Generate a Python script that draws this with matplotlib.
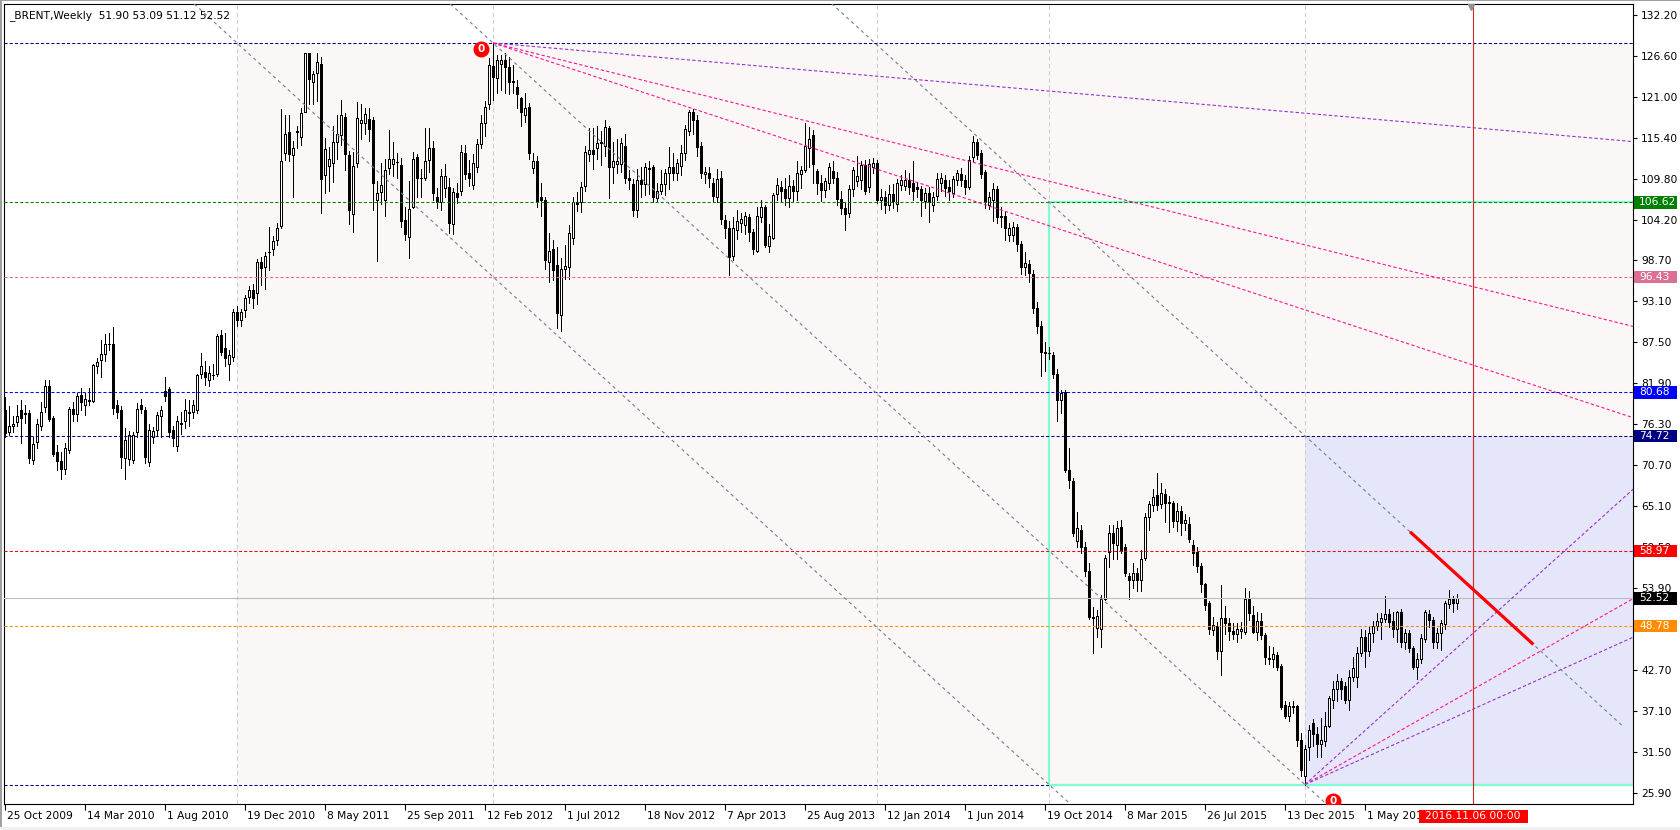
import numpy as np
import matplotlib
matplotlib.use("Agg")
import matplotlib.pyplot as plt
from matplotlib.patches import Rectangle

plt.rcParams['font.family'] = ['DejaVu Sans']

# ---------------- data (weekly candles, index 0 = week of 25 Oct 2009) ----------------
opens = [
    78.3, 75.2, 76.0, 76.6, 78.3, 77.8, 77.8, 71.4, 73.9, 76.0,
    78.6, 81.5, 77.1, 72.5, 71.3, 70.2, 72.8, 78.4, 77.7, 80.3,
    79.0, 79.5, 79.5, 84.2, 85.1, 85.9, 87.3, 87.2, 78.9, 78.3,
    71.7, 71.5, 71.4, 75.2, 79.0, 78.3, 71.2, 74.6, 75.5, 77.5,
    80.9, 81.1, 75.5, 73.3, 76.4, 76.7, 77.9, 78.0, 78.2, 83.2,
    83.4, 82.3, 83.1, 83.2, 88.5, 86.7, 84.6, 85.5, 91.7, 90.6,
    91.9, 93.7, 94.6, 94.3, 98.4, 97.8, 99.9, 100.3, 101.5, 103.4,
    113.4, 116.2, 113.1, 116.2, 115.6, 119.0, 127.0, 123.0, 124.3, 125.5,
    110.4, 111.6, 112.0, 114.9, 115.8, 118.3, 113.1, 105.0, 112.0, 117.5,
    117.5, 118.0, 117.9, 107.0, 108.0, 106.9, 111.3, 111.9, 112.1, 111.7,
    104.2, 101.9, 106.0, 112.8, 110.0, 110.0, 112.4, 114.0, 107.3, 106.6,
    108.6, 108.7, 103.7, 107.9, 108.2, 113.3, 110.6, 109.0, 111.4, 114.6,
    117.5, 120.0, 125.2, 123.6, 125.5, 126.0, 125.1, 123.0, 122.3, 120.8,
    118.6, 119.7, 111.3, 112.2, 107.4, 106.9, 98.4, 100.2, 98.1, 91.2,
    97.5, 97.8, 101.7, 106.6, 106.6, 108.9, 113.2, 113.8, 114.1, 114.7,
    114.3, 116.7, 111.4, 111.9, 111.9, 114.3, 109.9, 109.1, 105.5, 109.6,
    109.1, 111.3, 111.4, 107.2, 108.2, 109.1, 110.6, 111.4, 110.6, 111.6,
    113.4, 116.4, 119.0, 117.9, 114.3, 110.5, 110.6, 109.2, 107.4, 110.0,
    104.2, 103.1, 99.3, 102.8, 103.8, 103.5, 104.6, 102.6, 100.0, 104.6,
    106.0, 100.7, 101.8, 107.8, 108.7, 108.4, 107.2, 108.9, 108.2, 110.5,
    111.0, 114.1, 115.8, 110.9, 109.2, 108.3, 109.2, 110.9, 110.0, 107.1,
    105.8, 105.2, 108.4, 109.5, 109.6, 111.7, 108.7, 111.5, 112.0, 106.9,
    107.3, 106.3, 107.8, 106.4, 109.0, 108.9, 109.7, 109.2, 108.7, 108.4,
    106.8, 107.9, 106.3, 107.5, 109.2, 109.6, 108.7, 107.9, 109.7, 110.5,
    109.6, 108.7, 112.8, 114.9, 113.3, 110.7, 106.2, 106.9, 108.4, 104.8,
    104.8, 102.2, 102.2, 103.2, 100.9, 97.8, 98.2, 96.8, 92.2, 89.7,
    86.2, 86.1, 85.8, 83.2, 79.6, 80.7, 70.1, 68.5, 60.4, 61.9,
    59.6, 56.3, 50.0, 48.5, 48.4, 52.5, 58.8, 61.5, 59.8, 62.3,
    59.5, 55.6, 55.0, 56.0, 55.1, 58.0, 63.7, 65.3, 66.6, 65.4,
    66.8, 65.6, 65.5, 63.1, 64.5, 62.8, 62.7, 59.8, 58.8, 57.0,
    54.5, 51.9, 48.2, 48.7, 45.3, 49.8, 49.2, 48.1, 47.6, 48.1,
    47.9, 52.5, 50.3, 48.0, 49.4, 47.5, 44.3, 44.3, 44.8, 43.3,
    38.0, 36.5, 37.8, 37.8, 33.2, 28.2, 32.2, 35.5, 34.0, 32.6,
    33.0, 35.1, 38.7, 40.1, 41.2, 40.5, 38.6, 41.8, 41.8, 45.0,
    47.3, 45.4, 47.8, 48.8, 49.3, 49.7, 50.4, 49.5, 48.3, 50.7,
    46.5, 47.8, 45.7, 43.1, 44.2, 47.0, 50.4, 49.6, 46.6, 47.8,
    49.0, 51.8, 52.4, 51.90,
]
highs = [
    80.0, 78.8, 77.5, 78.9, 79.6, 79.0, 78.3, 74.5, 77.0, 79.3,
    82.4, 82.4, 77.5, 73.5, 72.5, 73.8, 78.6, 79.4, 80.6, 81.3,
    80.6, 81.2, 84.6, 85.3, 87.8, 88.6, 88.8, 89.6, 79.6, 78.8,
    75.8, 75.4, 75.2, 79.2, 79.8, 78.7, 76.4, 75.9, 78.0, 78.8,
    82.8, 81.4, 76.0, 77.4, 78.0, 79.8, 79.6, 79.6, 83.2, 86.1,
    85.0, 84.3, 84.5, 88.6, 89.2, 88.8, 86.5, 92.0, 92.4, 92.1,
    94.0, 95.2, 95.4, 98.9, 99.2, 99.8, 103.3, 102.0, 103.8, 119.4,
    118.6, 118.6, 115.0, 117.0, 119.5, 127.0, 127.0, 124.5, 127.0, 126.5,
    115.4, 114.2, 117.1, 118.6, 120.6, 118.8, 113.6, 113.5, 120.3, 120.0,
    119.5, 119.5, 118.3, 109.5, 112.0, 112.5, 116.5, 114.8, 113.4, 112.7,
    106.0, 109.5, 113.5, 113.2, 111.2, 116.7, 116.7, 115.0, 108.6, 111.2,
    111.8, 110.0, 108.6, 109.2, 114.5, 114.4, 112.4, 113.2, 115.2, 118.5,
    120.5, 126.3, 128.38, 126.7, 126.7, 127.0, 126.5, 125.4, 123.3, 121.0,
    121.5, 120.2, 113.4, 113.0, 109.2, 107.3, 102.4, 101.5, 100.5, 99.0,
    100.8, 103.5, 107.3, 108.0, 109.4, 114.3, 116.8, 116.7, 117.0, 116.3,
    117.9, 117.1, 114.8, 115.2, 115.4, 116.0, 111.0, 109.8, 111.2, 111.4,
    112.0, 112.2, 111.7, 109.3, 111.0, 111.2, 114.2, 113.4, 112.5, 114.5,
    117.2, 119.2, 119.3, 118.6, 114.8, 111.5, 111.5, 110.0, 111.2, 110.9,
    104.9, 104.1, 104.6, 105.6, 105.2, 105.3, 105.0, 103.0, 106.0, 106.9,
    106.2, 103.7, 107.9, 109.9, 109.5, 110.0, 110.4, 109.6, 112.3, 111.6,
    117.4, 116.9, 116.5, 111.2, 110.3, 110.0, 112.0, 112.3, 110.8, 108.1,
    106.5, 109.0, 111.5, 113.0, 112.2, 112.4, 112.6, 112.7, 112.4, 108.4,
    108.2, 109.0, 109.1, 109.8, 110.4, 111.0, 110.6, 112.3, 109.4, 108.9,
    108.6, 108.7, 108.0, 110.6, 110.6, 110.4, 109.6, 110.2, 111.0, 111.3,
    110.3, 113.0, 115.7, 115.3, 113.8, 111.0, 108.0, 109.2, 108.8, 106.0,
    105.4, 103.8, 103.9, 103.6, 101.4, 99.9, 98.8, 97.4, 93.0, 90.4,
    87.6, 86.8, 86.2, 83.8, 81.0, 81.0, 73.0, 69.0, 64.3, 62.6,
    60.2, 57.4, 51.3, 51.0, 53.0, 58.4, 62.5, 62.6, 63.1, 63.2,
    60.0, 56.0, 57.3, 56.7, 59.2, 64.2, 65.8, 67.4, 69.6, 68.3,
    67.5, 66.5, 65.8, 65.6, 65.2, 64.0, 63.6, 60.5, 59.6, 57.3,
    54.6, 52.2, 50.0, 49.3, 54.3, 51.5, 49.8, 49.2, 49.2, 49.3,
    53.9, 53.5, 51.5, 50.7, 50.5, 47.8, 46.0, 45.9, 45.2, 43.5,
    38.5, 38.4, 38.5, 37.9, 34.2, 32.5, 35.2, 36.1, 35.0, 36.2,
    37.0, 39.2, 41.2, 42.2, 41.7, 41.1, 42.8, 44.5, 45.9, 48.4,
    48.2, 48.7, 49.5, 50.5, 50.5, 52.8, 51.1, 50.7, 50.8, 51.1,
    48.4, 48.2, 46.0, 45.0, 47.6, 50.9, 51.0, 50.0, 48.5, 49.6,
    52.2, 53.7, 52.9, 53.09,
]
lows = [
    74.6, 74.8, 75.3, 76.0, 73.7, 76.5, 71.0, 70.9, 73.0, 75.5,
    78.0, 76.8, 72.0, 70.1, 68.8, 69.5, 72.4, 76.8, 76.7, 78.3,
    77.6, 79.0, 79.3, 83.3, 82.7, 84.9, 86.5, 77.7, 77.1, 70.3,
    68.8, 70.8, 71.0, 74.6, 77.9, 71.0, 70.6, 73.8, 74.7, 74.6,
    79.5, 74.6, 73.4, 72.6, 75.0, 75.8, 76.0, 77.2, 77.8, 82.6,
    81.7, 81.5, 82.5, 82.9, 85.8, 84.3, 82.4, 85.0, 89.7, 89.7,
    91.0, 92.8, 92.2, 92.7, 95.3, 94.8, 97.4, 99.4, 100.8, 103.1,
    112.4, 112.2, 107.4, 114.0, 114.5, 118.9, 120.0, 120.1, 120.5, 105.2,
    107.9, 108.2, 109.4, 112.5, 114.4, 111.0, 103.6, 102.5, 111.5, 115.3,
    116.0, 115.0, 105.5, 98.6, 106.4, 104.8, 110.5, 110.2, 110.0, 103.2,
    101.5, 99.0, 105.8, 107.3, 107.3, 109.7, 110.7, 107.0, 105.8, 105.6,
    107.4, 102.4, 102.3, 106.5, 107.6, 109.8, 108.9, 108.4, 110.8, 114.0,
    115.7, 119.4, 120.6, 121.5, 122.0, 121.6, 121.4, 121.6, 119.5, 117.0,
    117.6, 112.6, 110.6, 106.0, 104.8, 97.5, 95.8, 96.0, 89.4, 89.0,
    96.2, 96.2, 100.9, 105.4, 105.3, 108.1, 112.2, 111.1, 112.6, 111.7,
    113.0, 107.2, 109.3, 110.6, 110.8, 109.3, 108.4, 104.7, 104.6, 107.4,
    107.6, 107.8, 106.7, 106.8, 107.7, 107.6, 108.4, 109.7, 109.7, 110.4,
    112.4, 115.8, 116.0, 113.0, 110.0, 109.3, 108.7, 106.7, 106.6, 103.7,
    101.7, 96.7, 98.8, 101.6, 102.6, 102.3, 101.4, 99.6, 99.8, 103.9,
    100.5, 99.9, 101.6, 106.9, 106.7, 106.3, 106.0, 106.7, 107.0, 108.6,
    110.8, 111.5, 109.2, 107.8, 106.8, 107.3, 108.5, 109.3, 106.3, 105.0,
    102.9, 104.6, 107.5, 108.8, 108.5, 107.7, 108.0, 110.6, 106.5, 105.7,
    105.2, 105.6, 105.8, 105.4, 108.3, 108.3, 107.8, 107.0, 107.3, 104.8,
    105.8, 103.9, 105.4, 107.0, 108.2, 107.5, 106.9, 107.4, 109.0, 108.8,
    107.7, 108.4, 112.2, 112.5, 110.0, 105.9, 105.7, 104.0, 103.8, 103.3,
    101.5, 101.3, 101.3, 100.0, 96.8, 96.7, 95.8, 91.5, 88.8, 82.9,
    83.6, 85.2, 82.6, 76.8, 77.8, 69.8, 67.6, 61.0, 59.6, 58.7,
    55.6, 49.7, 45.1, 47.3, 45.9, 52.3, 56.8, 57.9, 57.9, 58.7,
    55.6, 52.5, 54.0, 53.5, 53.6, 57.8, 61.8, 64.5, 64.6, 64.9,
    63.0, 61.6, 62.3, 61.7, 61.2, 61.8, 60.2, 57.1, 56.1, 53.4,
    51.0, 47.6, 47.5, 44.2, 42.1, 47.7, 46.8, 47.0, 46.6, 47.1,
    47.7, 49.6, 47.8, 46.9, 47.0, 43.5, 43.5, 43.2, 42.7, 37.4,
    36.2, 35.8, 36.9, 32.4, 28.3, 27.1, 30.5, 32.4, 30.8, 30.9,
    32.3, 34.9, 37.6, 38.5, 38.8, 38.3, 37.3, 41.2, 40.4, 44.7,
    43.2, 44.7, 46.6, 48.2, 47.0, 49.3, 48.6, 47.3, 46.6, 45.9,
    45.6, 45.2, 42.9, 41.5, 43.7, 46.6, 48.6, 45.8, 45.8, 45.5,
    48.4, 51.2, 50.6, 51.12,
]
closes = [
    75.1, 76.0, 76.4, 77.5, 77.1, 77.7, 71.7, 73.6, 76.4, 78.0,
    81.5, 77.0, 72.3, 71.3, 70.2, 73.0, 78.4, 77.7, 80.2, 79.3,
    79.8, 79.6, 84.4, 84.8, 85.9, 87.2, 87.3, 78.5, 78.0, 71.8,
    74.2, 74.8, 74.8, 78.4, 78.4, 71.8, 75.5, 75.4, 77.6, 78.3,
    80.2, 75.2, 74.4, 76.8, 76.5, 78.2, 78.0, 78.9, 83.0, 84.3,
    82.8, 83.3, 83.1, 88.4, 86.2, 85.3, 85.8, 91.7, 90.6, 91.6,
    93.5, 94.6, 93.5, 98.5, 97.6, 99.3, 99.9, 101.3, 103.1, 112.3,
    116.0, 113.2, 114.1, 116.3, 118.8, 127.0, 123.4, 124.1, 125.8, 109.8,
    113.9, 112.5, 114.9, 116.0, 118.5, 113.2, 105.5, 111.6, 118.2, 117.9,
    118.7, 116.6, 109.2, 107.9, 109.0, 111.0, 112.5, 112.6, 112.1, 104.0,
    102.3, 105.7, 112.6, 109.9, 110.0, 112.3, 114.1, 107.9, 106.7, 110.2,
    110.2, 103.8, 108.0, 107.4, 113.5, 110.5, 110.0, 112.0, 114.6, 117.5,
    119.6, 125.4, 123.8, 126.0, 126.0, 125.1, 123.0, 123.2, 121.4, 119.0,
    119.5, 113.4, 112.3, 106.7, 106.9, 98.7, 100.0, 97.4, 91.5, 97.5,
    97.9, 102.4, 106.6, 106.4, 108.7, 113.5, 113.8, 113.2, 114.7, 114.9,
    116.9, 111.5, 112.2, 112.3, 114.7, 109.9, 109.6, 105.6, 109.6, 109.1,
    111.4, 111.1, 107.3, 108.1, 109.1, 110.6, 111.4, 110.6, 112.0, 113.4,
    116.6, 119.0, 117.9, 114.2, 110.6, 110.8, 110.0, 107.5, 109.8, 104.3,
    103.1, 99.2, 103.1, 104.1, 104.3, 104.7, 102.6, 100.2, 104.8, 106.0,
    100.8, 102.0, 107.6, 109.0, 108.2, 107.2, 108.9, 108.1, 110.6, 111.0,
    114.3, 115.2, 111.9, 109.3, 108.3, 109.5, 111.4, 110.0, 107.1, 105.8,
    105.0, 108.4, 111.0, 110.2, 111.7, 108.1, 111.8, 112.0, 107.0, 107.4,
    106.2, 107.8, 106.8, 109.2, 109.7, 109.7, 108.7, 108.1, 108.4, 106.9,
    107.9, 106.6, 107.3, 109.8, 109.9, 108.6, 108.1, 109.8, 110.6, 109.6,
    108.7, 112.4, 114.8, 113.1, 110.5, 106.6, 107.3, 108.4, 104.6, 104.6,
    103.1, 103.1, 103.2, 100.9, 97.8, 98.3, 97.0, 92.2, 89.7, 86.2,
    86.1, 86.0, 83.2, 79.6, 80.6, 70.0, 68.7, 61.4, 62.2, 59.6,
    56.3, 50.0, 49.9, 50.1, 52.4, 58.1, 61.4, 60.1, 62.1, 59.0,
    56.0, 55.1, 56.0, 55.1, 57.9, 63.6, 65.4, 66.4, 65.3, 66.9,
    65.5, 65.7, 63.1, 64.5, 62.8, 63.2, 60.6, 58.7, 57.0, 54.5,
    51.6, 48.4, 48.9, 45.3, 49.8, 49.2, 48.1, 47.7, 48.3, 48.4,
    52.5, 50.5, 48.0, 49.4, 47.5, 44.5, 44.4, 44.9, 43.1, 37.7,
    36.5, 37.8, 37.7, 33.2, 29.1, 32.0, 34.6, 34.0, 32.6, 33.2,
    35.1, 38.9, 40.2, 41.3, 40.2, 38.6, 41.8, 43.0, 45.0, 47.2,
    45.3, 47.8, 48.8, 49.5, 49.8, 50.4, 49.3, 48.3, 50.7, 46.5,
    47.8, 45.7, 43.2, 44.3, 47.1, 50.7, 49.6, 46.5, 47.8, 49.1,
    51.9, 52.4, 51.9, 52.52,
]

title_text = "_BRENT,Weekly  51.90 53.09 51.12 52.52"
date_labels = ["25 Oct 2009", "14 Mar 2010", "1 Aug 2010", "19 Dec 2010", "8 May 2011",
               "25 Sep 2011", "12 Feb 2012", "1 Jul 2012", "18 Nov 2012", "7 Apr 2013",
               "25 Aug 2013", "12 Jan 2014", "1 Jun 2014", "19 Oct 2014", "8 Mar 2015",
               "26 Jul 2015", "13 Dec 2015", "1 May 2016"]
date_index = [0, 20, 40, 60, 80, 100, 120, 140, 160, 180,
              200, 220, 240, 260, 280, 300, 320, 340]
price_ticks = [132.20, 126.60, 121.00, 115.40, 109.80, 104.20, 98.70, 93.10, 87.50,
               81.90, 76.30, 70.70, 65.10, 59.50, 53.90, 48.30, 42.70, 37.10, 31.50, 25.90]
hidden_tick_labels = [48.30]   # fully covered by a price tag in the reference

level_prices = [128.38, 106.62, 96.43, 80.68, 74.72, 58.97, 48.78, 27.10]
level_colors = ['#000080', '#008000', '#DB7093', '#0000FF', '#000080', '#E01010', '#FF8C00', '#000080']
bid_price = 52.52
tag_prices = [106.62, 96.43, 80.68, 74.72, 58.97, 52.52, 48.78]
tag_colors = ['#007F00', '#DB7093', '#0000FF', '#000080', '#FF0000', '#000000', '#FF8C00']

high_anchor = (122, 128.38)      # 0-marker high
low_anchor = (325, 27.10)        # 0-marker low
top_fan_end_index = 406.25
top_fan_end_prices = [114.95, 89.77, 77.34]
top_fan_colors = ['#9932CC', '#FF1493', '#FF1493']
bottom_fan_end_index = 407.0
bottom_fan_end_prices = [67.42, 52.48, 47.21]
bottom_fan_colors = ['#9932CC', '#FF1493', '#9932CC']
channel_a_anchor = (58, 128.38)
channel_c_anchor = (325, 74.72)
channel_c_end = 404.4
red_segment = (351.25, 382.1)
separator_index = [58, 122, 218, 261, 325]
pink_box = (58, 27.10, 128.38)
lavender_box = (325, 27.10, 74.72)
aqua_box = (261, 27.10, 106.62)
future_index = 367
future_label = "2016.11.06 00:00"
zero_markers = [(119, 127.62), (332, 24.85)]

# ---------------- layout helpers ----------------
W, H = 1680, 830
X0, X1, Y0, Y1 = 3.5, 1633.0, 4.0, 804.0  # plot box in pixels (from top-left)


def px_to_i(px):
    return (px - 5.0) / 4.0


def py_to_p(py):
    return 132.2 - (py - 15.0) / 7.322


def i_to_px(i):
    return 5.0 + 4.0 * i


FS = 7.7
fig = plt.figure(figsize=(W / 100, H / 100), dpi=100)
fig.patch.set_facecolor('white')
ax = fig.add_axes([X0 / W, 1 - Y1 / H, (X1 - X0) / W, (Y1 - Y0) / H])
ax.set_facecolor('white')
ax.set_xlim(px_to_i(X0), px_to_i(X1))
ax.set_ylim(py_to_p(Y1), py_to_p(Y0))
for s in ax.spines.values():
    s.set_color('black')
    s.set_linewidth(0.8)

# background rectangles
ax.add_patch(Rectangle((pink_box[0], pink_box[1]), 1000, pink_box[2] - pink_box[1],
                       facecolor='#FCF7F7', edgecolor='none', zorder=0.5))
ax.add_patch(Rectangle((lavender_box[0], lavender_box[1]), 1000, lavender_box[2] - lavender_box[1],
                       facecolor='#E6E6FA', edgecolor='none', zorder=0.6))

for xi in separator_index:
    ax.axvline(xi, color='#CDCDCD', lw=0.75, ls=(0, (4, 3)), zorder=1)

# candles
o = np.array(opens); h = np.array(highs); l = np.array(lows); c = np.array(closes)
x = np.arange(len(c))
up = c >= o
top = np.maximum(h, np.maximum(o, c))
bot = np.minimum(l, np.minimum(o, c))
ax.vlines(x, bot, top, color='black', lw=0.7, zorder=2, antialiased=False)
ax.bar(x[up], (c - o)[up], bottom=o[up], width=0.48, facecolor='white', edgecolor='black',
       linewidth=0.6, zorder=2.1, antialiased=False)
ax.bar(x[~up], (o - c)[~up], bottom=c[~up], width=0.48, facecolor='black', edgecolor='black',
       linewidth=0.6, zorder=2.1, antialiased=False)

# horizontal levels (the lowest one sits under the aqua box edge)
for p, col in zip(level_prices, level_colors):
    z = 1.4 if p == min(level_prices) else 3
    ax.axhline(p, color=col, lw=0.75, ls=(0, (3, 2)), zorder=z)
ax.axhline(bid_price, color='#BDBDBD', lw=0.8, zorder=3)

# aqua outline box
ax.add_patch(Rectangle((aqua_box[0], aqua_box[1]), 1000, aqua_box[2] - aqua_box[1],
                       facecolor='none', edgecolor='#7FFFD4', linewidth=1.6, zorder=1.6))

# channel lines
ch_slope = (low_anchor[1] - high_anchor[1]) / (low_anchor[0] - high_anchor[0])
gray = '#708090'
ax.axline(high_anchor, low_anchor, color=gray, lw=0.8, ls=(0, (3, 3)), zorder=3)
ax.axline(channel_a_anchor, slope=ch_slope, color=gray, lw=0.8, ls=(0, (3, 3)), zorder=3)
c_start = 180
ax.plot([c_start, channel_c_end],
        [channel_c_anchor[1] + ch_slope * (c_start - channel_c_anchor[0]),
         channel_c_anchor[1] + ch_slope * (channel_c_end - channel_c_anchor[0])],
        color=gray, lw=0.8, ls=(0, (3, 3)), zorder=3)
ax.plot(list(red_segment),
        [channel_c_anchor[1] + ch_slope * (r - channel_c_anchor[0]) for r in red_segment],
        color='#FF0000', lw=2.3, solid_capstyle='butt', zorder=4)

# fans
for pe, col in zip(top_fan_end_prices, top_fan_colors):
    sl = (pe - high_anchor[1]) / (top_fan_end_index - high_anchor[0])
    xe = 420
    ax.plot([high_anchor[0], xe], [high_anchor[1], high_anchor[1] + sl * (xe - high_anchor[0])],
            color=col, lw=0.8, ls=(0, (3, 2)), zorder=3)
for pe, col in zip(bottom_fan_end_prices, bottom_fan_colors):
    sl = (pe - low_anchor[1]) / (bottom_fan_end_index - low_anchor[0])
    xe = 420
    ax.plot([low_anchor[0], xe], [low_anchor[1], low_anchor[1] + sl * (xe - low_anchor[0])],
            color=col, lw=0.8, ls=(0, (3, 2)), zorder=3)

# future vertical line
ax.axvline(future_index, color='#D02828', lw=0.8, zorder=3.5)
ax.plot([px_to_i(1471)], [py_to_p(7)], marker='v', color='#909090', ms=5, zorder=8, clip_on=False)

# zero markers
for (mi, mp) in zero_markers:
    ax.plot([mi], [mp], marker='o', ms=10.5, color='#FF0000', mec='#FF0000', zorder=8)
    ax.text(mi, mp, '0', color='white', fontsize=7.5, fontweight='bold',
            ha='center', va='center', zorder=9, clip_on=True)

# axes ticks
ax.yaxis.tick_right()
ax.set_yticks(price_ticks)
ax.set_yticklabels(["" if v in hidden_tick_labels else f"{v:.2f}" for v in price_ticks])
ax.tick_params(axis='y', direction='out', length=3, width=0.8, pad=3, labelsize=FS, colors='black')
ax.set_xticks(date_index)
ax.tick_params(axis='x', direction='out', length=4, width=0.8, labelbottom=False, colors='black')

for lab, di in zip(date_labels, date_index):
    fig.text((i_to_px(di) + 2) / W, 1 - 816 / H, lab, ha='left', va='center', fontsize=FS, color='black')

# price tags on the right
ax_w_px = X1 - X0
ytr = ax.get_yaxis_transform()
box_h = 12.6 / 7.322
for p, col in zip(tag_prices, tag_colors):
    ax.add_patch(Rectangle((1 + 1.0 / ax_w_px, p - box_h / 2), 43.0 / ax_w_px, box_h,
                           transform=ytr, facecolor=col, edgecolor='none', clip_on=False, zorder=10))
    ax.text(1 + 6.0 / ax_w_px, p, f"{p:.2f}", transform=ytr, color='white', fontsize=FS,
            ha='left', va='center', clip_on=False, zorder=11)

# future date label
fx = i_to_px(future_index)
fig.patches.append(Rectangle(((fx - 54.5) / W, 1 - 822.5 / H), 109 / W, 12.5 / H,
                             transform=fig.transFigure, facecolor='#FF0000', edgecolor='none', zorder=5))
fig.text(fx / W, 1 - 816.3 / H, future_label, ha='center', va='center', fontsize=FS, color='white', zorder=6)

# title
fig.text(9 / W, 1 - 16 / H, title_text, ha='left', va='center', fontsize=FS, color='black', zorder=6)

# window borders
fig.patches.append(Rectangle((0, 1 - 1.5 / H), 1, 1.5 / H, transform=fig.transFigure,
                             facecolor='#A0A0A0', edgecolor='none'))
fig.patches.append(Rectangle((0, 0), 1.5 / W, 1, transform=fig.transFigure,
                             facecolor='#A0A0A0', edgecolor='none'))
fig.patches.append(Rectangle((0, 0), 1, 3 / H, transform=fig.transFigure,
                             facecolor='#F0F0F0', edgecolor='none'))

fig.savefig('out.png', dpi=100, facecolor='white')
